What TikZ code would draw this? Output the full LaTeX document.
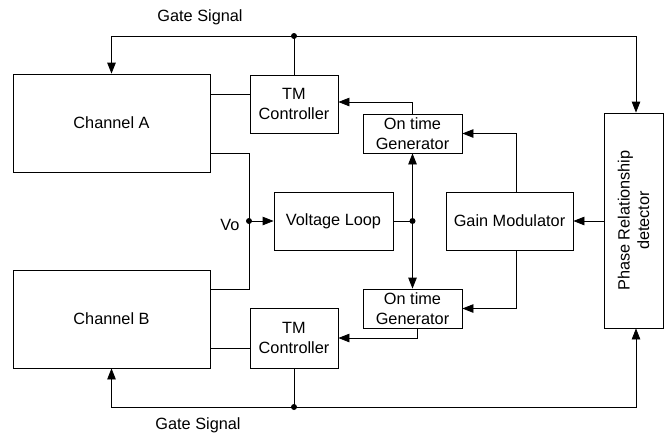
\documentclass[tikz,border=0pt]{standalone}
\usepackage{fontspec}
\setmainfont{Liberation Sans}
\usetikzlibrary{arrows.meta,calc}
\begin{document}
\begin{tikzpicture}[x=1pt,y=-1pt,
  box/.style={draw,line width=0.8pt,rectangle,inner sep=0pt,align=center,font=\fontsize{16.3}{19.5}\selectfont},
  wire/.style={line width=0.8pt},
  arr/.style={wire,-{Triangle[length=11pt,width=8.5pt]}},
  lbl/.style={font=\fontsize{16.3}{19.5}\selectfont,inner sep=0pt},
  dot/.style={circle,fill,inner sep=0pt,minimum size=6pt}]
\useasboundingbox (0,0) rectangle (668,437);
\node[box,minimum width=197pt,minimum height=98pt] (chA) at (111.5,123) {Channel A};
\node[box,minimum width=88pt,minimum height=58pt] (tmA) at (294,104) {TM\\Controller};
\node[box,minimum width=99pt,minimum height=39pt] (otgA) at (412.5,133.5) {On time\\Generator};
\node[box,minimum width=119pt,minimum height=58pt] (vl) at (333.5,221) {Voltage Loop};
\node[box,minimum width=127pt,minimum height=58pt] (gm) at (509.5,221) {Gain Modulator};
\node[box,minimum width=99pt,minimum height=39pt] (otgB) at (412.5,308.5) {On time\\Generator};
\node[box,minimum width=88pt,minimum height=60pt] (tmB) at (294,338) {TM\\Controller};
\node[box,minimum width=197pt,minimum height=98pt] (chB) at (111.5,319) {Channel B};
\node[box,minimum width=59pt,minimum height=215pt] (pd) at (633.5,220.5) {};
\node[lbl,rotate=90,align=center] (pdt) at (pd.center) {Phase Relationship\\detector};
\node[lbl] (gtop) at (200,17) {Gate Signal};
\node[lbl] (gbot) at (198,425) {Gate Signal};
\node[lbl] (vot) at (230,225) {Vo};
\coordinate (vo) at (249,221);
\coordinate (j) at (412.5,221);
\coordinate (gt) at (294,36);
\coordinate (gb) at (294,407);
% connectors
\draw[wire] ([yshift=10pt]tmA.west) -- ([yshift=10pt]tmA.west -| chA.east);
\draw[wire] ([yshift=-10pt]tmB.west) -- ([yshift=-10pt]tmB.west -| chB.east);
\draw[wire] ([yshift=-30pt]chA.east) -| (vo);
\draw[wire] ([yshift=30pt]chB.east) -| (vo);
\draw[arr] (vo) -- (vl.west);
\draw[wire] (vl.east) -- (j);
\draw[arr] (j) -- (otgA.south);
\draw[arr] (j) -- (otgB.north);
\draw[arr] (otgA.north) |- ([yshift=2pt]tmA.east);
\draw[arr] ([xshift=6.5pt]gm.north) |- (otgA.east);
\draw[arr] ([xshift=6.5pt]gm.south) |- (otgB.east);
\draw[arr] ([xshift=4.5pt]otgB.south) |- (tmB.east);
\draw[arr] (pd.west |- gm.east) -- (gm.east);
\draw[arr] (gt) -| (chA.north);
\draw[arr] (gt) -| ([xshift=2.5pt]pd.north);
\draw[wire] (gt) -- (tmA.north);
\draw[arr] (gb) -| (chB.south);
\draw[arr] (gb) -| ([xshift=2.5pt]pd.south);
\draw[wire] (gb) -- (tmB.south);
\node[dot] at (vo) {};
\node[dot] at (j) {};
\node[dot] at (gt) {};
\node[dot] at (gb) {};
\end{tikzpicture}
\end{document}
